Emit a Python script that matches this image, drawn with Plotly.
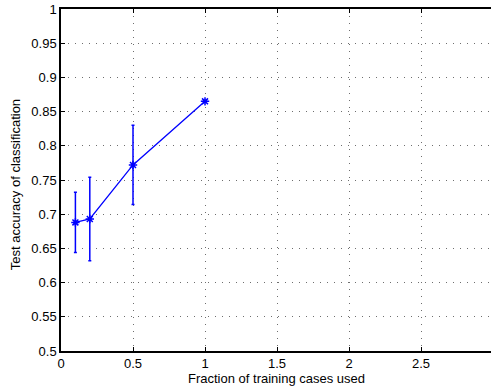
import plotly.graph_objects as go

fractions = [0.1, 0.2, 0.5, 1.0]
accuracy = [0.688, 0.693, 0.772, 0.865]
err = [0.044, 0.061, 0.058, 0.0]
x_ticks = [0, 0.5, 1, 1.5, 2, 2.5, 3]
x_labels = ["0", "0.5", "1", "1.5", "2", "2.5", "3"]
y_ticks = [0.5, 0.55, 0.6, 0.65, 0.7, 0.75, 0.8, 0.85, 0.9, 0.95, 1]
y_labels = ["0.5", "0.55", "0.6", "0.65", "0.7", "0.75", "0.8", "0.85", "0.9", "0.95", "1"]

blue = "rgb(0,0,255)"
font = dict(family="Liberation Sans, Arial", size=13, color="black")

fig = go.Figure()
fig.add_trace(go.Scatter(
    x=fractions, y=accuracy, mode="lines+markers",
    line=dict(color=blue, width=1.3),
    marker=dict(symbol="asterisk-open", size=7, color=blue, line=dict(color=blue, width=1.5)),
    error_y=dict(type="data", array=err, visible=True, color=blue, thickness=1.5, width=1.5),
    showlegend=False,
))

axis_common = dict(
    showline=True, linecolor="black", linewidth=1.5,
    ticks="inside", ticklen=4, tickcolor="black", tickwidth=1,
    showgrid=True, gridcolor="rgb(110,110,110)", griddash="1px,6px", gridwidth=1,
    zeroline=False, tickfont=font, automargin=False, ticklabeloverflow="allow",
)
fig.update_xaxes(range=[0, 2.986], tickvals=x_ticks, ticktext=x_labels,
                 mirror="ticks", ticklabelstandoff=0, **axis_common)
fig.update_yaxes(range=[0.5, 1], tickvals=y_ticks, ticktext=y_labels, **axis_common)

fig.add_annotation(text="Fraction of training cases used", xref="paper", yref="paper",
                   x=0.5, y=0, yshift=-27, xanchor="center", yanchor="middle",
                   showarrow=False, font=font)
fig.add_annotation(text="Test accuracy of classification", xref="paper", yref="paper",
                   x=0, xshift=-46, y=0.485, textangle=-90, xanchor="center", yanchor="middle",
                   showarrow=False, font=font)

fig.update_layout(width=491, height=388, margin=dict(l=61, r=0, t=9, b=37),
                  plot_bgcolor="white", paper_bgcolor="white", hovermode=False)
fig.write_html("out.html", config={"displayModeBar": False},
               post_script="document.body.style.margin='0';document.body.style.overflow='hidden';")
